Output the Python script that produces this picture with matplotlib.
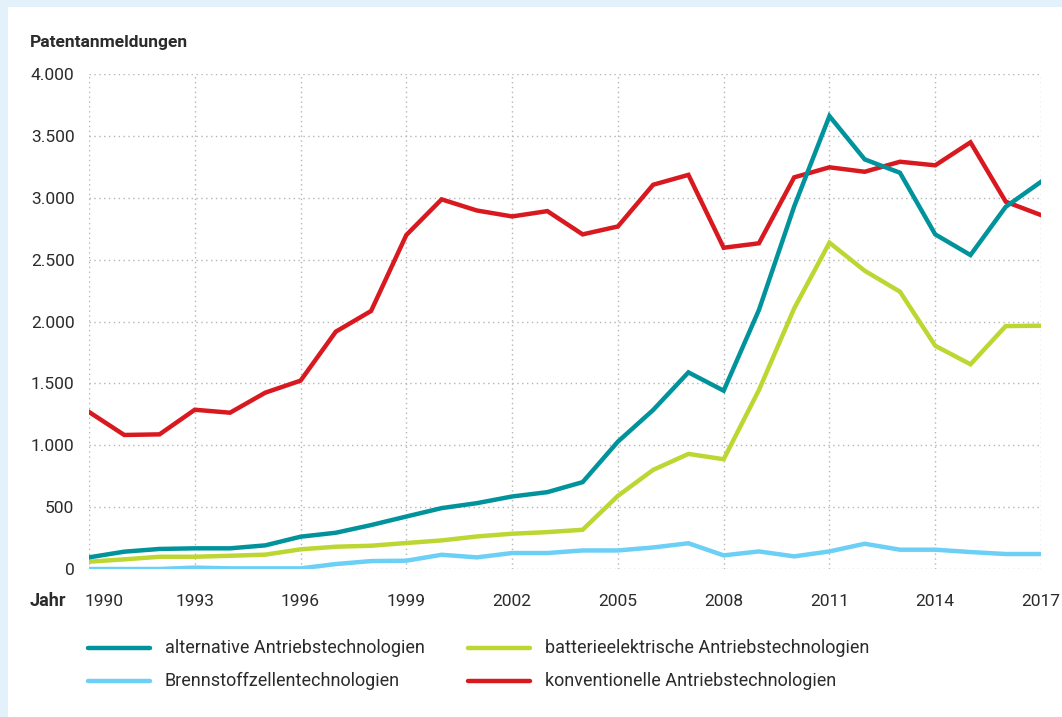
import matplotlib.pyplot as plt
import matplotlib.transforms as mtransforms
from matplotlib.lines import Line2D
from matplotlib.patches import Rectangle
from matplotlib.ticker import FuncFormatter

# Patentanmeldungen nach Antriebstechnologie, 1990-2017
jahre = list(range(1990, 2018))

alternativ = [94, 140, 162, 167, 167, 191, 261, 293, 355, 424,
              492, 532, 586, 621, 702, 1029, 1285, 1589, 1441, 2093,
              2930, 3660, 3310, 3202, 2704, 2537, 2927, 3129]
batterie = [59, 78, 99, 99, 107, 116, 159, 180, 188, 210,
            231, 263, 285, 298, 317, 591, 801, 930, 887, 1446,
            2106, 2637, 2410, 2241, 1804, 1654, 1963, 1966]
brennstoff = [0, 0, 0, 11, 5, 5, 5, 40, 64, 67,
              115, 94, 129, 129, 150, 150, 174, 208, 110, 142,
              102, 142, 204, 156, 156, 137, 121, 121]
konventionell = [1269, 1083, 1088, 1287, 1263, 1425, 1522, 1918, 2085, 2699,
                 2987, 2897, 2849, 2892, 2704, 2768, 3105, 3185, 2596, 2632,
                 3165, 3246, 3210, 3291, 3262, 3448, 2968, 2860]

namen = ['alternative Antriebstechnologien',
         'Brennstoffzellentechnologien',
         'batterieelektrische Antriebstechnologien',
         'konventionelle Antriebstechnologien']
reihen = [alternativ, brennstoff, batterie, konventionell]
farben = ['#00939b', '#6ccff6', '#bdd631', '#d8191f']

plt.rcParams['font.family'] = ['Roboto', 'DejaVu Sans']
textfarbe = '#2b2b2b'

fig = plt.figure(figsize=(10.62, 7.17), dpi=100)
fig.patch.set_facecolor('#e3f2fa')
fig.add_artist(Rectangle((8 / 1062, 0), 1, 1 - 7 / 717, transform=fig.transFigure,
                         facecolor='white', edgecolor='none', zorder=0))

ax = fig.add_axes([89 / 1062, 1 - 569 / 717, (1041 - 89) / 1062, (569 - 74) / 717])
ax.set_facecolor('none')

# drawing order: red first, then green, light blue, teal on top
for i in [3, 2, 1, 0]:
    ax.plot(jahre, reihen[i], color=farben[i], lw=3.2, solid_joinstyle='miter', zorder=3)

ax.set_xlim(1990, 2017)
ax.set_ylim(0, 4000)
ax.set_xticks(range(1990, 2018, 3))
ax.set_yticks(range(0, 4001, 500))
ax.yaxis.set_major_formatter(FuncFormatter(lambda v, p: f'{int(v):,}'.replace(',', '.')))
ax.grid(True, color='#b5b5b5', lw=1, ls=(0, (1, 2.5)), zorder=1)
ax.set_axisbelow(True)
for s in ax.spines.values():
    s.set_visible(False)
ax.tick_params(length=0, labelsize=12.5, colors=textfarbe)
ax.tick_params(axis='x', pad=18)
ax.tick_params(axis='y', pad=10.5)

# first year label sits to the right of its tick, next to "Jahr"
fig.canvas.draw()
erstes = ax.get_xticklabels()[0]
erstes.set_horizontalalignment('left')
erstes.set_transform(erstes.get_transform() +
                     mtransforms.ScaledTranslation(-4 / 100, 0, fig.dpi_scale_trans))

fig.text(30 / 1062, 1 - 42 / 717, 'Patentanmeldungen', fontsize=12.5, fontweight='bold',
         color=textfarbe, va='center', ha='left')
fig.text(30 / 1062, 1 - 601 / 717, 'Jahr', fontsize=13, fontweight='bold',
         color=textfarbe, va='center', ha='left')

# legend, two columns
pos = [(88, 648), (88, 681), (468, 648), (468, 681)]
for (x, y), name, farbe in zip(pos, namen, farben):
    fy = 1 - y / 717
    fig.add_artist(Line2D([x / 1062, (x + 62) / 1062], [fy, fy], transform=fig.transFigure,
                          color=farbe, lw=3.2, solid_capstyle='round'))
    fig.text((x + 77) / 1062, fy, name, fontsize=13, color=textfarbe, va='center', ha='left')

fig.savefig('out.png', dpi=100, facecolor=fig.get_facecolor())
